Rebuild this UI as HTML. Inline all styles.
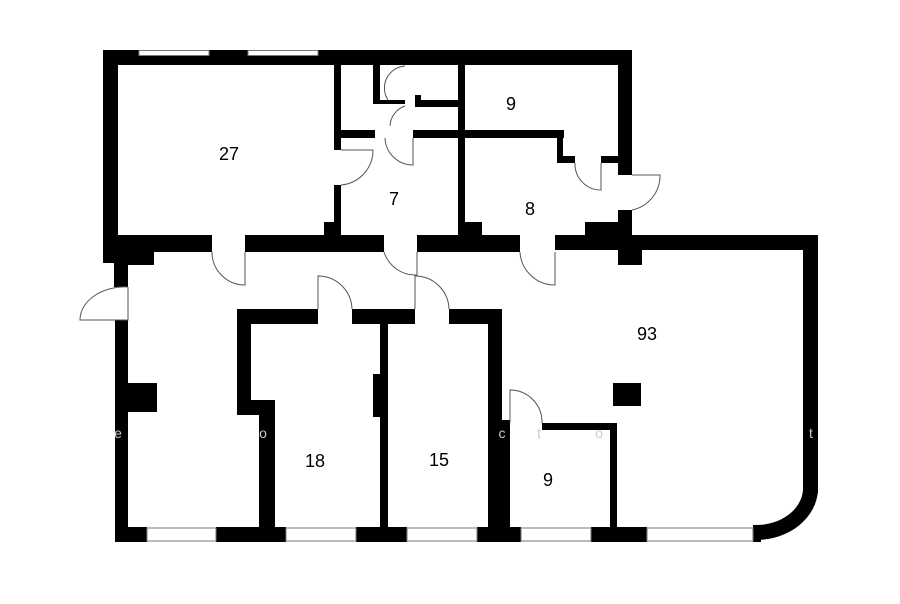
<!DOCTYPE html>
<html><head><meta charset="utf-8"><style>html,body{margin:0;padding:0;background:#fff}svg{display:block}</style></head>
<body>
<svg width="900" height="604" viewBox="0 0 900 604" xmlns="http://www.w3.org/2000/svg">
<rect width="900" height="604" fill="#fff"/>
<g fill="#000">
<rect x="103" y="50" width="529" height="15"/>
<rect x="103" y="50" width="15" height="213"/>
<rect x="118" y="235" width="36" height="30"/>
<rect x="114" y="250" width="14" height="37"/>
<rect x="334" y="65" width="7" height="85"/>
<rect x="334" y="185" width="7" height="50"/>
<rect x="324" y="222" width="17" height="13"/>
<rect x="373" y="65" width="7" height="37"/>
<rect x="373" y="100" width="32" height="4"/>
<rect x="415" y="95" width="6" height="12"/>
<rect x="415" y="100" width="43" height="7"/>
<rect x="458" y="65" width="7" height="170"/>
<rect x="458" y="222" width="24" height="13"/>
<rect x="341" y="130" width="34" height="8"/>
<rect x="413" y="130" width="151" height="8"/>
<rect x="557" y="130" width="6" height="32"/>
<rect x="557" y="156" width="18" height="7"/>
<rect x="601" y="156" width="17" height="7"/>
<rect x="618" y="50" width="14" height="125"/>
<rect x="618" y="210" width="14" height="55"/>
<rect x="585" y="222" width="33" height="13"/>
<rect x="618" y="250" width="24" height="15"/>
<rect x="118" y="235" width="94" height="17"/>
<rect x="245" y="235" width="139" height="17"/>
<rect x="417" y="235" width="103" height="17"/>
<rect x="555" y="235" width="263" height="15"/>
<rect x="803" y="235" width="15" height="258"/>
<path d="M803,490 L818,490 A62 52 0 0 1 756 540 L756 525 A47 37 0 0 0 803 490 Z"/>
<rect x="115" y="320" width="13" height="222"/>
<rect x="128" y="383" width="29" height="29"/>
<rect x="115" y="527" width="32" height="15"/>
<rect x="216" y="527" width="70" height="15"/>
<rect x="356" y="527" width="51" height="15"/>
<rect x="477" y="527" width="44" height="15"/>
<rect x="591" y="527" width="56" height="15"/>
<rect x="753" y="525" width="8" height="17"/>
<rect x="237" y="309" width="81" height="15"/>
<rect x="352" y="309" width="63" height="15"/>
<rect x="449" y="309" width="53" height="15"/>
<rect x="237" y="309" width="14" height="106"/>
<rect x="251" y="400" width="24" height="15"/>
<rect x="259" y="400" width="16" height="127"/>
<rect x="380" y="324" width="8" height="203"/>
<rect x="373" y="374" width="15" height="43"/>
<rect x="488" y="309" width="14" height="218"/>
<rect x="542" y="423" width="75" height="7"/>
<rect x="610" y="423" width="7" height="104"/>
<rect x="613" y="383" width="28" height="23"/>
<rect x="502" y="420" width="8" height="107"/>
</g>
<g fill="#fff" stroke="#777" stroke-width="1">
<rect x="139" y="50.5" width="70" height="5"/>
<rect x="248" y="50.5" width="70" height="5"/>
<rect x="147" y="528" width="69" height="13"/>
<rect x="286" y="528" width="70" height="13"/>
<rect x="407" y="528" width="70" height="13"/>
<rect x="521" y="528" width="70" height="13"/>
<rect x="647" y="528" width="106" height="13"/>
</g>
<g fill="none" stroke="#555" stroke-width="1">
<path d="M245,252 L245,285 A33 33 0 0 1 212 252"/>
<path d="M417,252 L417,275 A33 33 0 0 1 384 252"/>
<path d="M555,252 L555,285 A35 35 0 0 1 520 252"/>
<path d="M341,150 L373,150 A35 35 0 0 1 341 185"/>
<path d="M413,138 L413,165 A28 28 0 0 1 385 138"/>
<path d="M388,100 A22 22 0 0 1 405 66"/>
<path d="M390,126 A22 22 0 0 1 405 106"/>
<path d="M601,163 L601,190 A26 26 0 0 1 575 163"/>
<path d="M632,175 L660,175 A35 35 0 0 1 632 210"/>
<path d="M128,287 L128,320 L80,320 A45 33 0 0 1 128 287"/>
<path d="M318,309 L318,276 A34 34 0 0 1 352 309"/>
<path d="M415,309 L415,276 A34 34 0 0 1 449 309"/>
<path d="M510,423 L510,390 A32 32 0 0 1 542 423"/>
</g>
<g font-family="Liberation Sans, sans-serif" font-size="18" fill="#000" text-anchor="middle">
<text x="229" y="160">27</text>
<text x="394" y="205">7</text>
<text x="511" y="110">9</text>
<text x="530" y="215">8</text>
<text x="647" y="340">93</text>
<text x="315" y="467">18</text>
<text x="439" y="466">15</text>
<text x="548" y="486">9</text>
</g>
<g font-family="Liberation Sans, sans-serif" font-size="14" fill="#ccc" text-anchor="middle">
<text x="118" y="438">e</text>
<text x="263" y="438">o</text>
<text x="502" y="438">c</text>
<text x="539" y="438">t</text>
<text x="599" y="438">o</text>
<text x="811" y="438">t</text>
</g>
</svg>
</body></html>
